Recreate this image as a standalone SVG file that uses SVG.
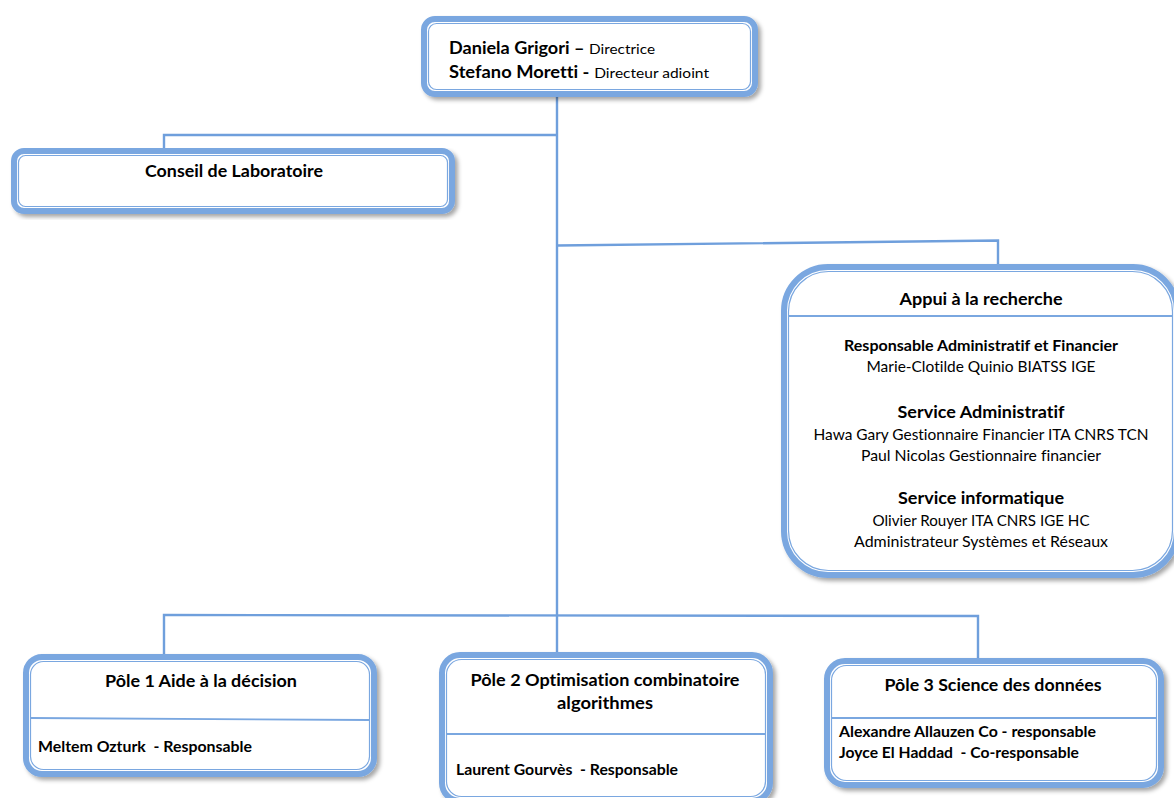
<svg xmlns="http://www.w3.org/2000/svg" width="1174" height="798" viewBox="0 0 1174 798">
<defs>
<filter id="sh" x="-5%" y="-5%" width="115%" height="120%">
<feDropShadow dx="3" dy="3" stdDeviation="2.2" flood-color="#000" flood-opacity="0.35"/>
</filter>
<style>
.outer{fill:#fff;stroke:#7aa7e0;stroke-width:6;filter:url(#sh)}
.inner{fill:none;stroke:#7aa7e0;stroke-width:1.2}
.div{stroke:#7aa7e0;stroke-width:1.8;fill:none}
.con{stroke:#6f9fdc;stroke-width:2.4;fill:none}
text{font-family:Lato,"Liberation Sans",sans-serif;fill:#000;font-variant-ligatures:none;font-feature-settings:"liga" 0,"dlig" 0}
.b{font-weight:bold}
.c{text-anchor:middle}
</style>
</defs>
<rect width="1174" height="798" fill="#fff"/>
<g id="connectors">
<polyline class="con" points="557,97 557,614"/>
<polyline class="con" points="557,135 164,135 164,150"/>
<polyline class="con" points="557,245.5 998,240.5 998,266"/>
<polyline class="con" points="164,655 164,615 978,616 978,660"/>
<polyline class="con" points="557,614 557,654"/>
</g>
<g id="direction">
<rect class="outer" x="424" y="19" width="331" height="75" rx="11"/>
<rect class="inner" x="428.5" y="23.5" width="322" height="66" rx="8"/>
<text x="449" y="54" font-size="16.5" textLength="206" lengthAdjust="spacingAndGlyphs"><tspan class="b">Daniela Grigori –</tspan> <tspan font-size="14">Directrice</tspan></text>
<text x="449" y="78" font-size="16.5" textLength="260" lengthAdjust="spacingAndGlyphs"><tspan class="b">Stefano Moretti -</tspan> <tspan font-size="14">Directeur adioint</tspan></text>
</g>
<g id="conseil">
<rect class="outer" x="14" y="151" width="438" height="60" rx="10"/>
<rect class="inner" x="18.5" y="155.5" width="429" height="51" rx="7"/>
<text class="b c" x="234" y="177" font-size="17" textLength="178" lengthAdjust="spacingAndGlyphs">Conseil de Laboratoire</text>
</g>
<g id="appui">
<rect class="outer" x="784" y="267" width="393" height="308" rx="44"/>
<rect class="inner" x="788.5" y="271.5" width="384" height="299" rx="40"/>
<line class="div" x1="789" y1="316" x2="1172" y2="316"/>
<text class="b c" x="981" y="305" font-size="17" textLength="163" lengthAdjust="spacingAndGlyphs">Appui à la recherche</text>
<text class="b c" x="981" y="351" font-size="15" textLength="274" lengthAdjust="spacingAndGlyphs">Responsable Administratif et Financier</text>
<text class="c" x="981" y="372" font-size="15" textLength="229" lengthAdjust="spacingAndGlyphs">Marie-Clotilde Quinio BIATSS IGE</text>
<text class="b c" x="981" y="418" font-size="17.5" textLength="167" lengthAdjust="spacingAndGlyphs">Service Administratif</text>
<text class="c" x="981" y="440" font-size="15" textLength="335" lengthAdjust="spacingAndGlyphs">Hawa Gary Gestionnaire Financier ITA CNRS TCN</text>
<text class="c" x="981" y="461" font-size="15" textLength="240" lengthAdjust="spacingAndGlyphs">Paul Nicolas Gestionnaire financier</text>
<text class="b c" x="981" y="504" font-size="17.5" textLength="166" lengthAdjust="spacingAndGlyphs">Service informatique</text>
<text class="c" x="981" y="526" font-size="15" textLength="217" lengthAdjust="spacingAndGlyphs">Olivier Rouyer ITA CNRS IGE HC</text>
<text class="c" x="981" y="547" font-size="15" textLength="254" lengthAdjust="spacingAndGlyphs">Administrateur Systèmes et Réseaux</text>
</g>
<g id="pole1">
<rect class="outer" x="26" y="657" width="348" height="117" rx="16"/>
<rect class="inner" x="30.5" y="661.5" width="339" height="108" rx="13"/>
<line class="div" x1="31" y1="718" x2="369" y2="720"/>
<text class="b c" x="201" y="687" font-size="17" textLength="192" lengthAdjust="spacingAndGlyphs">Pôle 1 Aide à la décision</text>
<text class="b" x="38" y="752" font-size="15" textLength="214" lengthAdjust="spacingAndGlyphs" xml:space="preserve">Meltem Ozturk  - Responsable</text>
</g>
<g id="pole2">
<rect class="outer" x="442" y="655" width="328" height="146" rx="18"/>
<rect class="inner" x="446.5" y="659.5" width="319" height="137" rx="15"/>
<line class="div" x1="447" y1="734" x2="765" y2="734"/>
<text class="b c" x="605" y="686" font-size="17" textLength="269" lengthAdjust="spacingAndGlyphs">Pôle 2 Optimisation combinatoire</text>
<text class="b c" x="605" y="709" font-size="17" textLength="96" lengthAdjust="spacingAndGlyphs">algorithmes</text>
<text class="b" x="456" y="775" font-size="15" textLength="222" lengthAdjust="spacingAndGlyphs" xml:space="preserve">Laurent Gourvès  - Responsable</text>
</g>
<g id="pole3">
<rect class="outer" x="827" y="661" width="334" height="124" rx="18"/>
<rect class="inner" x="831.5" y="665.5" width="325" height="115" rx="15"/>
<line class="div" x1="832" y1="718" x2="1156" y2="718"/>
<text class="b c" x="993" y="691" font-size="17" textLength="217" lengthAdjust="spacingAndGlyphs">Pôle 3 Science des données</text>
<text class="b" x="839" y="737" font-size="15" textLength="257" lengthAdjust="spacingAndGlyphs">Alexandre Allauzen Co - responsable</text>
<text class="b" x="839" y="758" font-size="15" textLength="240" lengthAdjust="spacingAndGlyphs" xml:space="preserve">Joyce El Haddad  - Co-responsable</text>
</g>
</svg>
